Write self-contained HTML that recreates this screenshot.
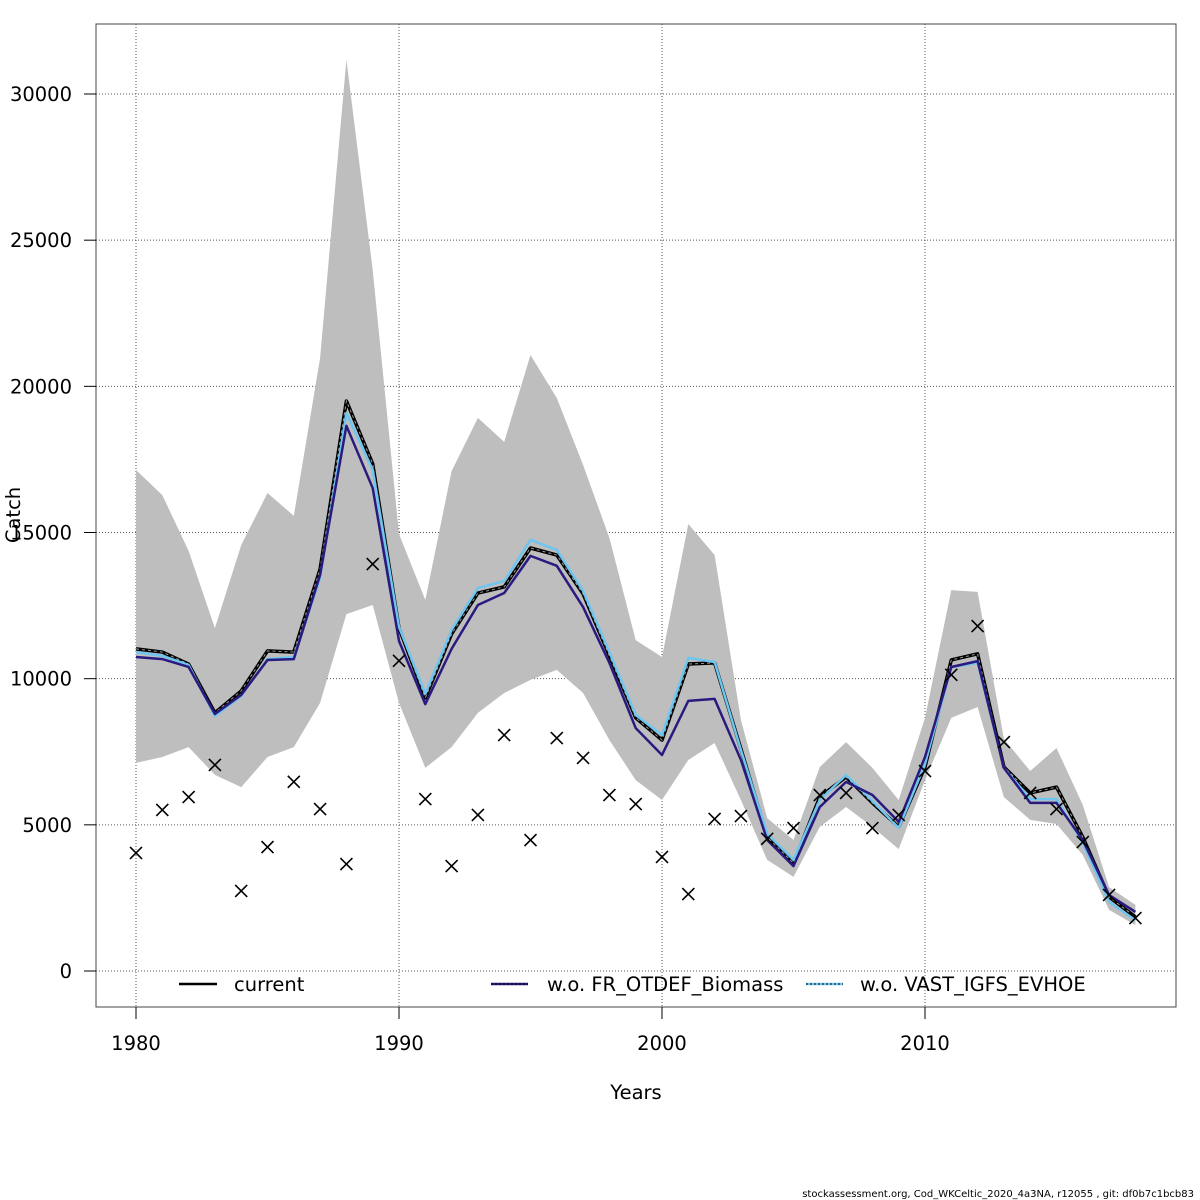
<!DOCTYPE html>
<html><head><meta charset="utf-8"><style>
html,body{margin:0;padding:0;background:#fff;}
svg{display:block;font-family:"DejaVu Sans","Liberation Sans",sans-serif;}
</style></head><body>
<svg id="chart" width="1200" height="1200" viewBox="0 0 1200 1200" xmlns="http://www.w3.org/2000/svg">
<rect x="0" y="0" width="1200" height="1200" fill="#fff"/>
<g id="grid"></g>
<g id="band"></g>
<g id="lines"></g>
<g id="obs"></g>
<rect x="96" y="24" width="1080" height="983" fill="none" stroke="#444" stroke-width="1"/>
<g id="axes"></g>
<text x="636" y="1099" font-size="19.5" text-anchor="middle">Years</text>
<text transform="translate(20,515) rotate(-90)" font-size="19.5" text-anchor="middle">Catch</text>
<g font-size="19.5">
<g>
<line x1="179" y1="984" x2="217" y2="984" stroke="#000" stroke-width="2.5"/>
<text x="234" y="991">current</text></g>
<g>
<line x1="491" y1="984" x2="528" y2="984" stroke="#2a1a80" stroke-width="2.5"/>
<line x1="491" y1="984" x2="528" y2="984" stroke="#000" stroke-width="1" stroke-dasharray="2,2"/>
<text x="547" y="991">w.o. FR_OTDEF_Biomass</text></g>
<g>
<line x1="806" y1="984" x2="843" y2="984" stroke="#6ec6f0" stroke-width="2.5"/>
<line x1="806" y1="984" x2="843" y2="984" stroke="#000" stroke-width="1" stroke-dasharray="2,2"/>
<text x="860" y="991">w.o. VAST_IGFS_EVHOE</text></g>
</g>
<text x="1194" y="1197" font-size="10" text-anchor="end">stockassessment.org, Cod_WKCeltic_2020_4a3NA, r12055 , git: df0b7c1bcb83</text>
</svg>
<script>
const years = [];
for (let y = 1980; y <= 2018; y++) years.push(y);
const currentVals = [11020,10910,10500,8830,9580,10950,10910,13750,19500,17350,11730,9340,11530,12930,13140,14470,14230,12900,10780,8660,7900,10500,10540,7600,4580,3690,5950,6640,5750,4930,6980,10640,10850,6980,6090,6290,4580,2530,1850];
const frVals = [10740,10670,10400,8790,9440,10640,10670,13550,18650,16520,11290,9130,11020,12520,12930,14200,13860,12450,10540,8310,7390,9240,9310,7220,4480,3590,5610,6470,6020,5100,7320,10400,10600,6950,5750,5750,4480,2600,2020];
const vastVals = [10910,10780,10470,8720,9410,10670,10740,13450,19090,17140,11770,9480,11670,13100,13340,14750,14400,13000,10910,8760,8070,10710,10570,7560,4690,3800,5850,6710,5820,4890,7080,10400,10540,6950,5880,5880,4380,2360,1740];
const upperVals = [17140,16280,14370,11730,14570,16350,15570,20970,31170,23980,14950,12690,17100,18920,18100,21070,19600,17310,14810,11320,10740,15290,14230,8590,5230,4480,6980,7830,6950,5850,8660,13030,12970,7940,6840,7630,5680,2870,2260];
const lowerVals = [7120,7320,7660,6710,6290,7320,7660,9170,12210,12520,9170,6950,7660,8830,9510,9960,10300,9510,7900,6530,5850,7220,7800,5850,3800,3220,4930,5610,4930,4170,6530,8660,9030,5950,5170,5030,3970,2090,1570];
const obsVals = [4040,5510,5950,7050,2740,4240,6470,5540,3660,13920,10610,5880,3590,5340,8070,4480,7970,7290,6020,5710,3900,2630,5200,5300,4520,4890,6020,6090,4890,5340,6840,10130,11800,7830,6090,5540,4410,2600,1810];
const xTicks = [1980,1990,2000,2010];
const yTicks = [0,5000,10000,15000,20000,25000,30000];

const NS = 'http://www.w3.org/2000/svg';
const X = y => 136 + (y - 1980) * 26.3;
const Y = v => 971 - v * 0.029233;
function mk(tag, attrs, parent) {
  const e = document.createElementNS(NS, tag);
  for (const k in attrs) e.setAttribute(k, attrs[k]);
  parent.appendChild(e);
  return e;
}
const grid = document.getElementById('grid');
const axes = document.getElementById('axes');
xTicks.forEach(t => {
  const g = mk('line', {x1: X(t), x2: X(t), y1: 24, y2: 1007, stroke: '#555', 'stroke-width': 1, 'stroke-dasharray': '1,2'}, grid);
  
  
  const tk = mk('line', {x1: X(t), x2: X(t), y1: 1007, y2: 1019, stroke: '#000'}, axes);
  
  
  const tx = mk('text', {x: X(t), y: 1050, 'font-size': 19.5, 'text-anchor': 'middle'}, axes);
  tx.textContent = t;
  
  
});
yTicks.forEach(t => {
  const g = mk('line', {x1: 96, x2: 1176, y1: Y(t), y2: Y(t), stroke: '#555', 'stroke-width': 1, 'stroke-dasharray': '1,2'}, grid);
  
  
  const tk = mk('line', {x1: 84, x2: 96, y1: Y(t), y2: Y(t), stroke: '#000'}, axes);
  
  
  const tx = mk('text', {x: 72, y: Y(t) + 7, 'font-size': 19.5, 'text-anchor': 'end'}, axes);
  tx.textContent = t;
  
  
});
let bp = years.map((y, i) => X(y) + ',' + Y(upperVals[i]));
bp = bp.concat(years.map((y, i) => X(y) + ',' + Y(lowerVals[i])).reverse());
const band = mk('polygon', {points: bp.join(' '), fill: '#bebebe', stroke: 'none'}, document.getElementById('band'));


const lines = document.getElementById('lines');
function pts(vals) { return years.map((y, i) => X(y) + ',' + Y(vals[i])).join(' '); }
const l1 = mk('polyline', {points: pts(currentVals), fill: 'none', stroke: '#000', 'stroke-width': 3.5, 'stroke-linejoin': 'round'}, lines);


const l1b = mk('polyline', {points: pts(currentVals), fill: 'none', stroke: '#999', 'stroke-width': 1, 'stroke-dasharray': '3,3'}, lines);


const l3 = mk('polyline', {points: pts(vastVals), fill: 'none', stroke: '#6ec6f0', 'stroke-width': 2.5, 'stroke-linejoin': 'round'}, lines);


const l2 = mk('polyline', {points: pts(frVals), fill: 'none', stroke: '#2a1a80', 'stroke-width': 2.5, 'stroke-linejoin': 'round'}, lines);


const obs = document.getElementById('obs');
years.forEach((y, i) => {
  const cx = X(y), cy = Y(obsVals[i]), s = 6;
  const p = mk('path', {d: `M${cx-s},${cy-s}L${cx+s},${cy+s}M${cx-s},${cy+s}L${cx+s},${cy-s}`, stroke: '#000', 'stroke-width': 1.6, fill: 'none'}, obs);
  
  
});
</script>
</body></html>
